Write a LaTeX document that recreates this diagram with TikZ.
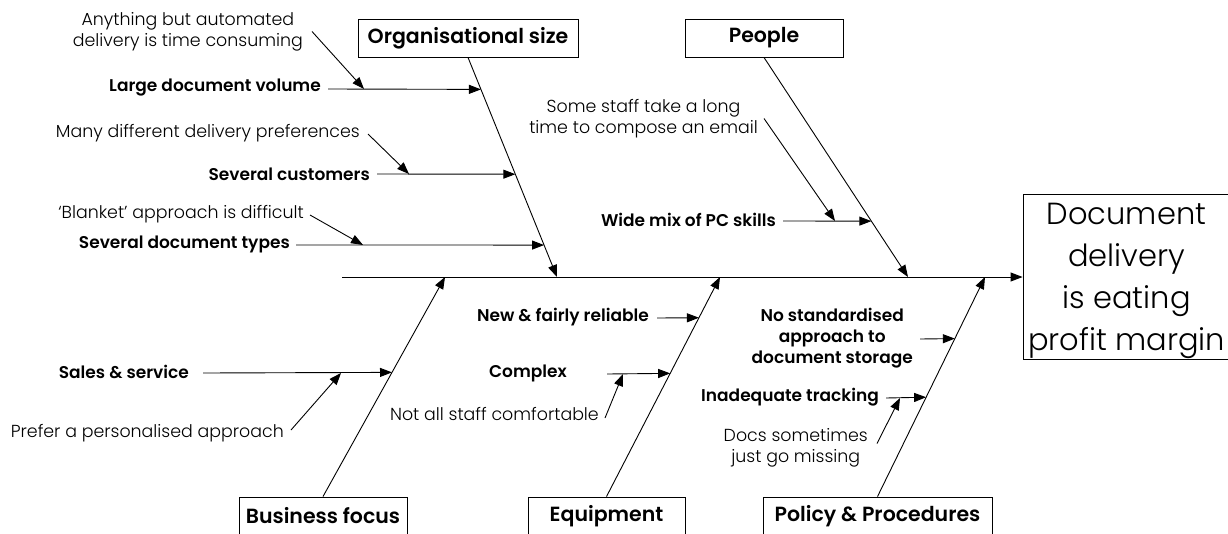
\documentclass[tikz,border=0pt]{standalone}
\usepackage{fontspec}
\IfFontExistsTF{Poppins Light}{\def\myreg{Poppins Light}}{\def\myreg{Poppins}}
\IfFontExistsTF{Poppins SemiBold}{\def\mybold{Poppins SemiBold}}{\def\mybold{Poppins Bold}}
\setmainfont{\myreg}[BoldFont=\mybold]
\usetikzlibrary{arrows.meta,calc}
\begin{document}
\begin{tikzpicture}[x=1pt,y=-1pt,
  every node/.style={inner sep=0pt},
  note/.style={align=center, font=\fontsize{17.4}{21}\selectfont},
  cause/.style={align=center, font=\bfseries\fontsize{17}{21}\selectfont},
  cat/.style={draw, line width=0.9pt, font=\bfseries\fontsize{20.5}{22}\selectfont, minimum height=38pt},
  effect/.style={draw, line width=0.9pt, align=center, font=\fontsize{30.5}{42}\selectfont},
  arr/.style={-{Triangle[length=12pt,width=9pt]}, line width=0.9pt}]
\useasboundingbox (0,0) rectangle (1228,533);
\clip (0,0) rectangle (1228,533);

% category boxes and effect
\node[cat, minimum width=220pt] (org) at (468,38) {Organisational size};
\node[cat, minimum width=158pt] (ppl) at (764,38) {People};
\node[cat, minimum width=168pt] (bus) at (323,516) {Business focus};
\node[cat, minimum width=157pt] (equ) at (606.5,516) {Equipment};
\node[cat, minimum width=229pt] (pol) at (877.5,516) {Policy \& Procedures};
\node[effect, minimum width=207pt, minimum height=158pt] (eff) at (1126.5,277) {\rule{0pt}{30pt}Document\\delivery\\is eating\\profit margin};

% spine
\coordinate (sp) at (342,277);
\draw[arr] (sp) -- (eff.west);

% bone tips on the spine
\coordinate (ot) at (557,277);
\coordinate (pt) at (908,277);
\coordinate (bt) at (445,277);
\coordinate (et) at (720,277);
\coordinate (lt) at (985,277);
\draw[arr] (org.south) -- (ot);
\draw[arr] (ppl.south) -- (pt);
\draw[arr] (bus.north) -- (bt);
\draw[arr] (equ.north) -- (et);
\draw[arr] (pol.north) -- (lt);

% points on the bones
\coordinate (o1) at ($(org.south)!0.14545!(ot)$);
\coordinate (o2) at ($(org.south)!0.5318!(ot)$);
\coordinate (o3) at ($(org.south)!0.8545!(ot)$);
\coordinate (p1) at ($(ppl.south)!0.7455!(pt)$);
\coordinate (b1) at ($(bus.north)!0.5656!(bt)$);
\coordinate (e1) at ($(equ.north)!0.8145!(et)$);
\coordinate (e2) at ($(equ.north)!0.5611!(et)$);
\coordinate (l1) at ($(pol.north)!0.7195!(lt)$);
\coordinate (l2) at ($(pol.north)!0.4525!(lt)$);

% Organisational size
\node[cause, anchor=east] (c1) at (321,88) {Large document volume};
\draw[arr] ($(c1.east)+(7,1)$) -- (o1);
\node[note, anchor=east] (a1) at (303,31.5) {Anything but automated\\delivery is time consuming};
\draw[arr] ($(a1.east)+(9,0)$) -- ($(c1.east)+(43,1)$);

\node[cause, anchor=east] (c2) at (370,174) {Several customers};
\draw[arr] ($(c2.east)+(7,0)$) -- (o2);
\node[note, anchor=east] (a2) at (360,133) {Many different delivery preferences};
\draw[arr] ($(a2.east)+(8,1)$) -- ($(c2.east)+(39,0)$);

\node[cause, anchor=east] (c3) at (290,244) {Several document types};
\draw[arr] ($(c3.east)+(6,1)$) -- (o3);
\node[note, anchor=east] (a3) at (304,214) {`Blanket' approach is difficult};
\draw[arr] ($(a3.east)+(6,1)$) -- ($(c3.east)+(73,1)$);

% People
\node[cause, anchor=east] (c4) at (776,220) {Wide mix of PC skills};
\draw[arr] ($(c4.east)+(7,1)$) -- (p1);
\node[note, anchor=east] (a4) at (758,118.5) {Some staff take a long\\time to compose an email};
\draw[arr] ($(a4.east)+(6,0)$) -- ($(c4.east)+(59,1)$);

% Business focus
\node[cause, anchor=east] (c5) at (189,372) {Sales \& service};
\draw[arr] ($(c5.east)+(14,1)$) -- (b1);
\node[note, anchor=east] (a5) at (284,433) {Prefer a personalised approach};
\draw[arr] ($(a5.east)+(7,-3)$) -- ($(c5.east)+(152,1)$);

% Equipment
\node[cause, anchor=east] (c6) at (649,317) {New \& fairly reliable};
\draw[arr] ($(c6.east)+(8,1)$) -- (e1);
\node[cause, anchor=east] (c7) at (567,373) {Complex};
\draw[arr] ($(c7.east)+(40,1)$) -- (e2);
\node[note, anchor=east] (a7) at (599,414) {Not all staff comfortable};
\draw[arr] ($(a7.east)+(6,4)$) -- ($(c7.east)+(56,1)$);

% Policy & Procedures
\node[cause, anchor=east] (c8) at (913,338) {No standardised\\approach to\\document storage};
\draw[arr] ($(c8.east)+(7,1)$) -- (l1);
\node[cause, anchor=east] (c9) at (879,397) {Inadequate tracking};
\draw[arr] ($(c9.east)+(7,1)$) -- (l2);
\node[note, anchor=east] (a9) at (868,447.5) {Docs sometimes\\just go missing};
\draw[arr] ($(a9.east)+(9,-4)$) -- ($(c9.east)+(21,1)$);
\end{tikzpicture}
\end{document}
